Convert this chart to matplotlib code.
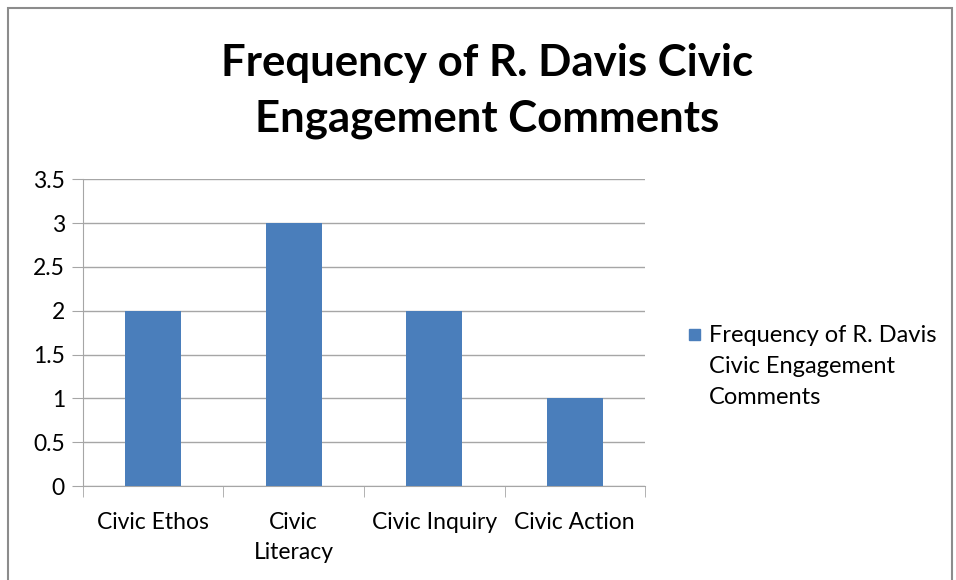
import matplotlib.pyplot as plt
from matplotlib.patches import Rectangle
import numpy as np

# data
categories = ['Civic Ethos', 'Civic\nLiteracy', 'Civic Inquiry', 'Civic Action']
counts = [2, 3, 2, 1]
series_name = 'Frequency of R. Davis\nCivic Engagement\nComments'
title = 'Frequency of R. Davis Civic\nEngagement Comments'
bar_color = '#4a7ebb'

plt.rcParams['font.family'] = ['Lato', 'DejaVu Sans']

fig = plt.figure(figsize=(9.56, 5.8), dpi=100)
ax = fig.add_axes([0.0868, 0.162, 0.5879, 0.529])

x = np.arange(len(categories))
ax.bar(x, counts, width=0.4, color=bar_color, zorder=3)

ax.set_xlim(-0.5, len(categories) - 0.5)
ax.set_ylim(0, 3.5)
ax.set_yticks(np.arange(0, 3.51, 0.5))
ax.set_yticklabels(['0', '0.5', '1', '1.5', '2', '2.5', '3', '3.5'])
ax.set_xticks(x)
ax.set_xticklabels(categories, linespacing=1.5)
ax.set_xticks(np.arange(-0.5, len(categories), 1), minor=True)

grid_c = '#a6a6a6'
ax.grid(axis='y', color=grid_c, linewidth=1, zorder=0)
for s in ['top', 'right']:
    ax.spines[s].set_visible(False)
for s in ['left', 'bottom']:
    ax.spines[s].set_color(grid_c)
ax.tick_params(axis='y', length=8, color=grid_c, labelsize=16.5, pad=5)
ax.tick_params(axis='x', which='major', length=0, labelsize=16.5, pad=19)
ax.tick_params(axis='x', which='minor', length=8, color=grid_c)

fig.text(487 / 956, 1 - 91 / 580, title, ha='center', va='center',
         fontsize=31.5, fontweight='bold', linespacing=1.45)

# legend (handle beside first line, as in the original)
fig.patches.append(Rectangle((689 / 956, 1 - 340 / 580), 11 / 956, 11 / 580,
                             transform=fig.transFigure, color=bar_color))
fig.text(709 / 956, 1 - 325 / 580, series_name, ha='left', va='top',
         fontsize=17, linespacing=1.6)

fig.patches.append(Rectangle((8 / 956, -0.05), 944 / 956, 1.05 - 8 / 580,
                             transform=fig.transFigure, fill=False,
                             edgecolor='#8c8c8c', linewidth=1.5))

fig.savefig('out.png', dpi=100)
